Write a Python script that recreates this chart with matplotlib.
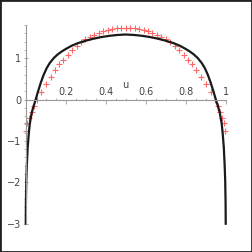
import matplotlib
matplotlib.use('Agg')
import matplotlib.pyplot as plt
from matplotlib.patches import Rectangle
from matplotlib.ticker import MultipleLocator

# black curve
curve_u = [0.0003, 0.001, 0.003, 0.006, 0.01, 0.015, 0.02, 0.03, 0.04, 0.05,
           0.06, 0.075, 0.09, 0.105, 0.12, 0.14, 0.16, 0.18, 0.2, 0.23, 0.26,
           0.3, 0.34, 0.38, 0.42, 0.46, 0.5,
           0.54, 0.58, 0.62, 0.66, 0.7, 0.74, 0.77, 0.8, 0.82, 0.84, 0.86,
           0.88, 0.895, 0.91, 0.925, 0.94, 0.95, 0.96, 0.97, 0.98, 0.985,
           0.99, 0.994, 0.997, 0.999, 0.9997]
curve_y = [-3.0, -2.5, -1.95, -1.55, -1.15, -0.85, -0.6, -0.32, -0.15, 0.0,
           0.17, 0.4, 0.6, 0.76, 0.88, 1.0, 1.09, 1.16, 1.22, 1.3, 1.36,
           1.42, 1.47, 1.51, 1.54, 1.56, 1.57,
           1.56, 1.54, 1.51, 1.47, 1.42, 1.36, 1.3, 1.22, 1.16, 1.09, 1.0,
           0.88, 0.76, 0.6, 0.4, 0.17, 0.0, -0.15, -0.32, -0.6, -0.85,
           -1.15, -1.55, -1.95, -2.5, -3.0]

# red crosses
pts_u = [0.003, 0.008, 0.018, 0.03, 0.041, 0.055, 0.075, 0.1, 0.125, 0.147,
         0.168, 0.188, 0.21, 0.233, 0.255, 0.277, 0.298, 0.322, 0.343, 0.367,
         0.388, 0.41, 0.433, 0.455, 0.477, 0.5,
         0.522, 0.545, 0.567, 0.59, 0.612, 0.633, 0.657, 0.678, 0.702, 0.723,
         0.745, 0.767, 0.79, 0.812, 0.832, 0.853, 0.875, 0.9, 0.925, 0.945,
         0.959, 0.97, 0.982, 0.992, 0.997]
pts_y = [-0.75, -0.57, -0.44, -0.29, -0.15, 0.0, 0.17, 0.38, 0.55, 0.71,
         0.85, 0.96, 1.07, 1.19, 1.30, 1.38, 1.45, 1.51, 1.56, 1.61,
         1.66, 1.68, 1.71, 1.72, 1.72, 1.72,
         1.72, 1.72, 1.71, 1.68, 1.66, 1.61, 1.56, 1.51, 1.45, 1.38,
         1.30, 1.19, 1.07, 0.96, 0.85, 0.71, 0.55, 0.38, 0.17, 0.0,
         -0.15, -0.29, -0.44, -0.57, -0.75]

xticks = [0.2, 0.4, 0.6, 0.8, 1]
xlabels = ['0.2', '0.4', '0.6', '0.8', '1']
yticks = [-3, -2, -1, 0, 1]
ylabels = ['\u22123', '\u22122', '\u22121', '0', '1']

fig = plt.figure(figsize=(2.52, 2.52), dpi=100)
ax = fig.add_axes([0.102, 0.1123, 0.794, 0.7885])
ax.set_xlim(0, 1)
ax.set_ylim(-3, 1.8)

axcol = '#999999'
ax.spines['right'].set_visible(False)
ax.spines['left'].set_position(('data', 0))
ax.spines['bottom'].set_position(('data', 0))
ax.spines['top'].set_position(('data', 0))
ax.spines['top'].set_visible(False)
ax.spines['left'].set_color(axcol)
ax.spines['bottom'].set_color(axcol)

ax.xaxis.set_ticks_position('top')
ax.yaxis.set_ticks_position('left')
ax.set_xticks(xticks)
ax.set_xticklabels(xlabels)
ax.set_yticks(yticks)
ax.set_yticklabels(ylabels)
ax.xaxis.set_minor_locator(MultipleLocator(0.05))
ax.yaxis.set_minor_locator(MultipleLocator(0.2))
ax.tick_params(which='major', length=3, width=0.6, color=axcol,
               labelsize=7, labelcolor='#444444', pad=1.5)
ax.tick_params(which='minor', length=1.5, width=0.5, color=axcol)
ax.tick_params(axis='x', direction='in')
ax.tick_params(axis='y', direction='inout')

ax.annotate('u', xy=(0.5, 0), xytext=(0, 7), textcoords='offset points',
            ha='center', va='bottom', fontsize=7, color='#444444')

ax.plot(pts_u, pts_y, linestyle='none', marker='+', color='#ff4040',
        alpha=0.8, markersize=5, markeredgewidth=0.8, clip_on=False)
ax.plot(curve_u, curve_y, color='#1a1a1a', linewidth=1.6, clip_on=False)

fig.patches.append(Rectangle((0, 0), 1, 1, transform=fig.transFigure,
                             fill=False, edgecolor='#222222', linewidth=2))

fig.savefig('out.png', dpi=100)
